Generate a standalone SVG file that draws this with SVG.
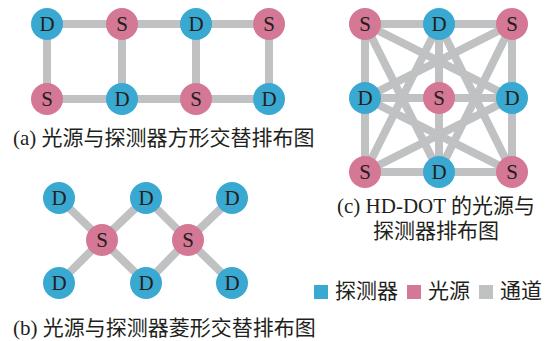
<svg xmlns="http://www.w3.org/2000/svg" width="548" height="341" viewBox="0 0 548 341">
<style>
.e{stroke:#bfc1c3;stroke-width:8;fill:none}
.d{fill:#3aa9d1}
.s{fill:#d47896}
.t{font-family:"Liberation Serif",serif;font-size:21px;fill:#231f20;text-anchor:middle}
.c{font-family:"Liberation Serif","Noto Sans CJK SC",serif;font-size:21px;fill:#231f20}
</style>
<rect width="548" height="341" fill="#fff"/>
<g id="connectors">
<!-- a -->
<path class="e" d="M47 24H269M47 99H269M47 24V99M122 24V99M196 24V99M269 24V99"/>
<!-- b -->
<path class="e" d="M59 198L102 240L59 283M146 198L102 240L146 283M146 198L188 240L146 283M232 198L188 240L232 283"/>
<!-- c -->
<path class="e" d="M365 24H512M365 98H512M365 172H512M365 24V172M439 24V172M512 24V172"/>
<path class="e" d="M365 24L512 98M365 24L439 172M512 24L365 98M512 24L439 172M365 172L439 24M365 172L512 98M512 172L439 24M512 172L365 98"/>
</g>
<g id="a-D1"><circle class="d" cx="47" cy="24" r="16"/><text class="t" x="47" y="31">D</text></g>
<g id="a-S1"><circle class="s" cx="122" cy="24" r="16"/><text class="t" x="122" y="31">S</text></g>
<g id="a-D2"><circle class="d" cx="196" cy="24" r="16"/><text class="t" x="196" y="31">D</text></g>
<g id="a-S2"><circle class="s" cx="269" cy="24" r="16"/><text class="t" x="269" y="31">S</text></g>
<g id="a-S3"><circle class="s" cx="47" cy="99" r="16"/><text class="t" x="47" y="106">S</text></g>
<g id="a-D3"><circle class="d" cx="122" cy="99" r="16"/><text class="t" x="122" y="106">D</text></g>
<g id="a-S4"><circle class="s" cx="196" cy="99" r="16"/><text class="t" x="196" y="106">S</text></g>
<g id="a-D4"><circle class="d" cx="269" cy="99" r="16"/><text class="t" x="269" y="106">D</text></g>
<text class="c" x="13" y="145">(a) 光源与探测器方形交替排布图</text>

<g id="b-D1"><circle class="d" cx="59" cy="198" r="16"/><text class="t" x="59" y="205">D</text></g>
<g id="b-D2"><circle class="d" cx="146" cy="198" r="16"/><text class="t" x="146" y="205">D</text></g>
<g id="b-D3"><circle class="d" cx="232" cy="198" r="16"/><text class="t" x="232" y="205">D</text></g>
<g id="b-S1"><circle class="s" cx="102" cy="240" r="16"/><text class="t" x="102" y="247">S</text></g>
<g id="b-S2"><circle class="s" cx="188" cy="240" r="16"/><text class="t" x="188" y="247">S</text></g>
<g id="b-D4"><circle class="d" cx="59" cy="283" r="16"/><text class="t" x="59" y="290">D</text></g>
<g id="b-D5"><circle class="d" cx="146" cy="283" r="16"/><text class="t" x="146" y="290">D</text></g>
<g id="b-D6"><circle class="d" cx="232" cy="283" r="16"/><text class="t" x="232" y="290">D</text></g>
<text class="c" x="13" y="335">(b) 光源与探测器菱形交替排布图</text>

<g id="c-S1"><circle class="s" cx="365" cy="24" r="16"/><text class="t" x="365" y="31">S</text></g>
<g id="c-D1"><circle class="d" cx="439" cy="24" r="16"/><text class="t" x="439" y="31">D</text></g>
<g id="c-S2"><circle class="s" cx="512" cy="24" r="16"/><text class="t" x="512" y="31">S</text></g>
<g id="c-D2"><circle class="d" cx="365" cy="98" r="16"/><text class="t" x="365" y="105">D</text></g>
<g id="c-S3"><circle class="s" cx="439" cy="98" r="16"/><text class="t" x="439" y="105">S</text></g>
<g id="c-D3"><circle class="d" cx="512" cy="98" r="16"/><text class="t" x="512" y="105">D</text></g>
<g id="c-S4"><circle class="s" cx="365" cy="172" r="16"/><text class="t" x="365" y="179">S</text></g>
<g id="c-D4"><circle class="d" cx="439" cy="172" r="16"/><text class="t" x="439" y="179">D</text></g>
<g id="c-S5"><circle class="s" cx="512" cy="172" r="16"/><text class="t" x="512" y="179">S</text></g>
<text class="c" x="436" y="213" text-anchor="middle">(c) HD-DOT 的光源与</text>
<text class="c" x="436" y="238" text-anchor="middle">探测器排布图</text>

<g id="legend">
<rect class="d" x="314" y="285" width="14" height="14"/>
<text class="c" x="335" y="298">探测器</text>
<rect class="s" x="407" y="285" width="14" height="14"/>
<text class="c" x="428" y="298">光源</text>
<rect fill="#bfc1c3" x="479" y="285" width="14" height="14"/>
<text class="c" x="500" y="298">通道</text>
</g>
</svg>
